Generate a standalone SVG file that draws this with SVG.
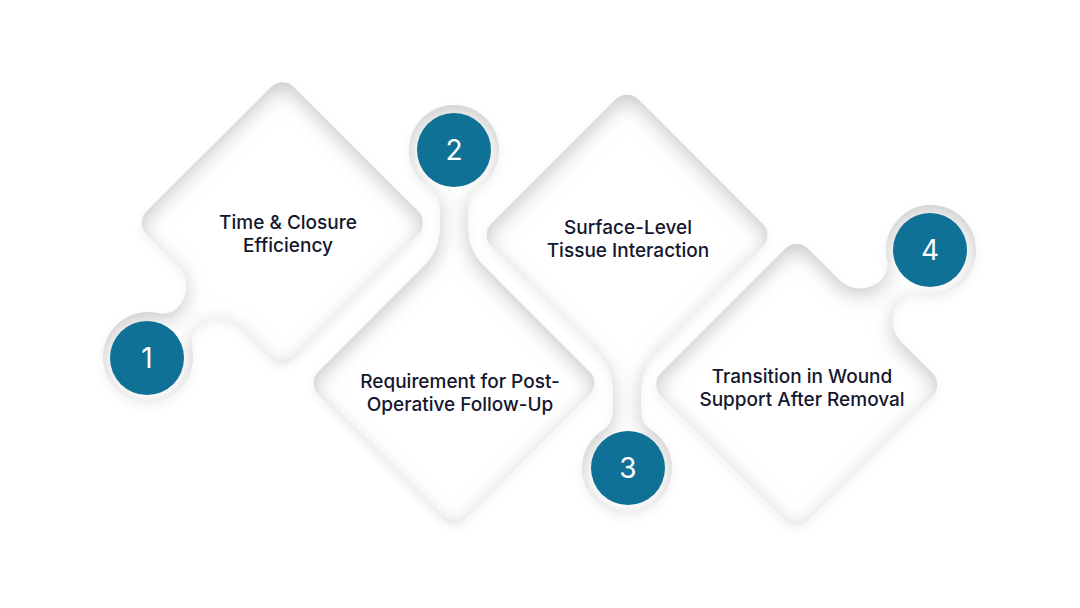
<svg xmlns="http://www.w3.org/2000/svg" width="1080" height="608" viewBox="0 0 1080 608">
  <defs>
    <filter id="neu" x="-25%" y="-25%" width="150%" height="150%" color-interpolation-filters="sRGB">
      <feComponentTransfer in="SourceAlpha" result="inv">
        <feFuncA type="table" tableValues="1 0"/>
      </feComponentTransfer>
      <feOffset in="inv" dx="0" dy="6" result="invOff"/>
      <feGaussianBlur in="invOff" stdDeviation="10" result="invBlur"/>
      <feFlood flood-color="#9a9a9a" flood-opacity="0.55"/>
      <feComposite in2="invBlur" operator="in"/>
      <feComposite in2="SourceAlpha" operator="in" result="inner"/>
      <feGaussianBlur in="SourceAlpha" stdDeviation="5" result="dsBlur"/>
      <feOffset in="dsBlur" dx="0" dy="4" result="dsOff"/>
      <feFlood flood-color="#000000" flood-opacity="0.06"/>
      <feComposite in2="dsOff" operator="in" result="drop"/>
      <feMerge>
        <feMergeNode in="drop"/>
        <feMergeNode in="SourceGraphic"/>
        <feMergeNode in="inner"/>
      </feMerge>
    </filter>
    <path id="vtx" d="M 24.78 37.57 A 45 45 0 1 0 -24.78 37.57 A 24 24 0 0 1 -14 57.6 L -14 77.22 A 55 55 0 0 1 -30.11 116.11 L -135.69 221.69 A 16 16 0 0 0 -135.69 244.31 L -11.31 368.69 A 16 16 0 0 0 11.31 368.69 L 135.69 244.31 A 16 16 0 0 0 135.69 221.69 L 30.11 116.11 A 55 55 0 0 1 14 77.22 L 14 57.6 A 24 24 0 0 1 24.78 37.57 Z"/>
    <path id="edg" d="M 24.18 37.95 A 45 45 0 1 0 -24.18 37.95 A 22 22 0 0 1 -14 56.5 L -14 56 A 30 30 0 0 1 -44 86 L -88 86 A 16 16 0 0 0 -104 102 L -104 278 A 16 16 0 0 0 -88 294 L 88 294 A 16 16 0 0 0 104 278 L 104 102 A 16 16 0 0 0 88 86 L 44 86 A 30 30 0 0 1 14 56 L 14 56.5 A 22 22 0 0 1 24.18 37.95 Z"/>
  </defs>
  <style>
    .shape { fill: #ffffff; }
    .badge { fill: #0f7196; }
    .num { font-family: Inter, "Liberation Sans", sans-serif; font-size: 28px; font-weight: 400; fill: #ffffff; text-anchor: middle; }
    .label { font-family: Inter, "Liberation Sans", sans-serif; font-size: 19px; font-weight: 500; fill: #15172e; text-anchor: middle; }
  </style>
  <rect width="1080" height="608" fill="#ffffff"/>

  <g id="node1">
    <g filter="url(#neu)"><use href="#edg" class="shape" transform="translate(148 357) rotate(-135)"/></g>
    <circle class="badge" cx="147" cy="358" r="37"/>
    <text class="num" x="147" y="368">1</text>
    <text class="label" x="288" y="229">Time &amp; Closure</text>
    <text class="label" x="288" y="252">Efficiency</text>
  </g>

  <g id="node2">
    <g filter="url(#neu)"><use href="#vtx" class="shape" transform="translate(454 150)"/></g>
    <circle class="badge" cx="454" cy="150" r="37"/>
    <text class="num" x="454" y="160">2</text>
    <text class="label" x="460" y="388">Requirement for Post-</text>
    <text class="label" x="460" y="411">Operative Follow-Up</text>
  </g>

  <g id="node3">
    <g filter="url(#neu)"><use href="#vtx" class="shape" transform="translate(627 468) rotate(180)"/></g>
    <circle class="badge" cx="628" cy="468" r="37"/>
    <text class="num" x="628" y="478">3</text>
    <text class="label" x="628" y="234">Surface-Level</text>
    <text class="label" x="628" y="257">Tissue Interaction</text>
  </g>

  <g id="node4">
    <g filter="url(#neu)"><use href="#edg" class="shape" transform="translate(931 250) rotate(45)"/></g>
    <circle class="badge" cx="930" cy="250" r="37"/>
    <text class="num" x="930" y="260">4</text>
    <text class="label" x="802" y="383">Transition in Wound</text>
    <text class="label" x="802" y="406">Support After Removal</text>
  </g>
</svg>
